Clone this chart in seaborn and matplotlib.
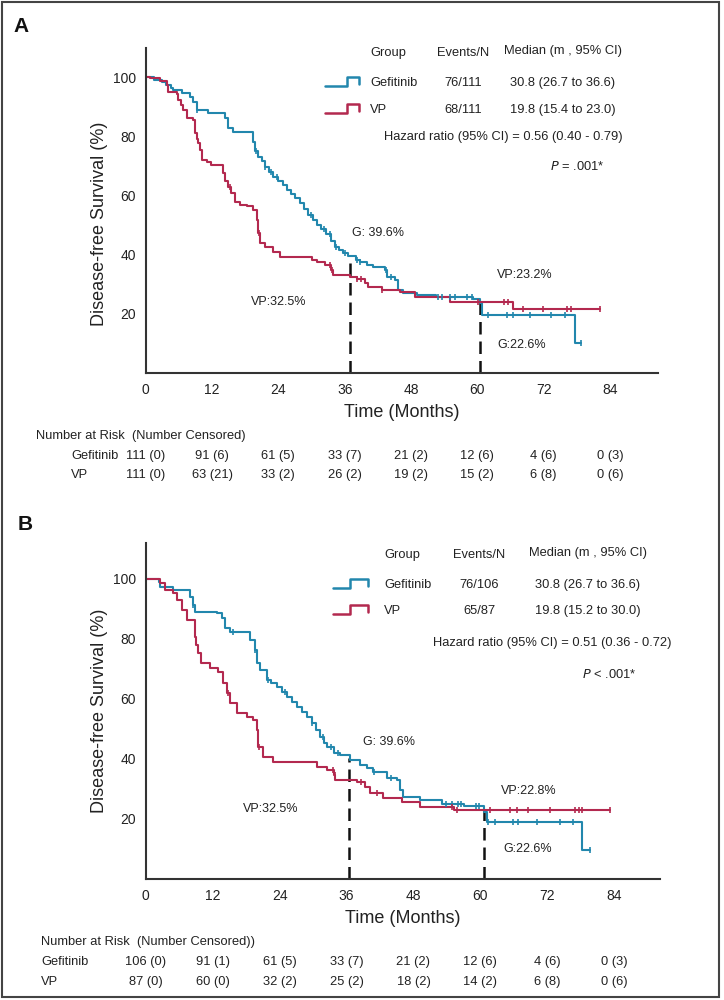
import numpy as np
import pandas as pd
import matplotlib
matplotlib.use("Agg")
import matplotlib.pyplot as plt
from matplotlib import font_manager
from matplotlib.lines import Line2D
from matplotlib.patches import Rectangle
from matplotlib.transforms import blended_transform_factory
import seaborn as sns

# ---------------- data ----------------
groups = ["Gefitinib", "VP"]

# Panel A step data (months, survival % after the step); last point = end of follow-up
a_gef_t = [0, 1.5, 3.0, 3.6, 4.5, 5.0, 6.5, 8.0, 8.6, 9.2, 11.3, 14.3, 14.9, 15.8, 19.5, 19.8, 20.3, 21.0,
           21.5, 22.3, 23.1, 24.0, 24.8, 25.5, 26.3, 27.0, 27.9, 28.6, 29.3, 30.3, 31.0, 31.8, 32.7, 33.5,
           34.2, 35.0, 35.7, 36.6, 38.0, 38.75, 40.0, 41.2, 43.3, 43.6, 45.1, 45.7, 46.5, 49.0, 52.6, 59.2,
           60.5, 60.9, 77.6, 78.8]
a_gef_s = [100, 99.1, 98.2, 97.3, 96.4, 95.5, 94.6, 93.3, 91.7, 88.9, 87.7, 86.0, 82.7, 81.5, 78.1, 75.0, 73.1, 71.5,
           69.7, 68.0, 66.3, 65.0, 63.5, 61.8, 60.5, 59.0, 57.3, 55.5, 53.5, 51.7, 50.0, 48.5, 47.0, 44.5,
           42.7, 41.5, 40.5, 39.6, 38.3, 37.6, 36.5, 35.9, 34.8, 32.5, 31.4, 28.0, 27.0, 26.3, 25.6, 24.9,
           23.5, 19.6, 10.0, 10.0]
a_vp_t = [0, 0.8, 2.5, 3.8, 4.0, 5.6, 5.9, 6.4, 6.8, 7.4, 8.6, 8.9, 9.2, 9.5, 9.8, 10.1, 11.0, 11.9, 14.0,
          14.4, 14.9, 15.5, 16.1, 17.1, 18.3, 19.5, 20.1, 20.4, 20.7, 21.6, 23.1, 24.3, 30.0, 30.9, 32.4,
          33.6, 33.9, 36.9, 38.2, 39.7, 40.3, 42.7, 46.0, 48.7, 55.0, 66.5, 82.2]
a_vp_s = [100, 99.5, 98.6, 97.3, 95.0, 94.4, 92.2, 90.5, 88.9, 86.0, 85.4, 81.0, 79.0, 77.6, 75.3, 72.0, 71.4, 70.3, 67.5,
          65.0, 62.9, 60.7, 57.9, 56.8, 56.3, 55.1, 51.7, 47.2, 43.8, 42.7, 41.0, 39.3, 38.2, 37.6, 36.5,
          34.8, 33.1, 32.5, 31.6, 30.5, 29.2, 28.0, 27.5, 25.8, 24.1, 21.5, 21.5]
a_gef_cens = [9.3, 19.9, 21.6, 22.6, 23.8, 29.9, 32.3, 33.4, 34.5, 36.0, 38.2, 38.8, 43.4, 44.3,
              52.8, 53.6, 55.0, 56.0, 58.2, 59.0, 62.0, 65.3, 66.5, 69.5, 73.4, 75.8, 78.8]
a_vp_cens = [15.3, 20.5, 33.4, 33.7, 38.3, 38.9, 42.8, 60.2, 64.9, 65.5, 68.2, 71.8, 76.3, 76.9, 82.2]

# Panel B step data
b_gef_t = [0, 2.3, 2.6, 4.95, 7.9, 8.5, 8.8, 12.7, 13.6, 14.2, 15.1, 18.7, 19.6, 19.9, 20.5, 21.7, 22.5, 23.5,
           24.4, 25.3, 26.2, 27.1, 28.0, 28.9, 29.8, 30.5, 31.3, 31.9, 32.5, 33.7, 34.9, 36.6, 38.4, 39.6,
           40.8, 43.2, 45.0, 45.6, 46.2, 49.2, 53.1, 57.0, 60.6, 61.2, 78.2, 79.7]
b_gef_s = [100, 99.1, 97.4, 96.3, 94.1, 91.3, 89.1, 88.6, 86.9, 83.6, 82.4, 79.7, 76.3, 71.9, 69.7, 66.3, 65.2, 64.1,
           62.4, 60.8, 59.1, 57.4, 55.7, 54.1, 51.9, 49.7, 47.4, 45.2, 44.1, 41.9, 41.3, 39.7, 38.0, 37.0,
           35.8, 33.6, 33.0, 29.7, 27.4, 26.3, 25.0, 24.3, 22.4, 19.1, 9.7, 9.7]
b_vp_t = [0, 2.6, 3.5, 4.95, 5.6, 6.5, 7.4, 8.8, 9.1, 9.4, 10.0, 11.5, 13.0, 13.9, 14.5, 15.1, 16.3, 18.1,
          19.3, 19.9, 20.2, 21.1, 22.9, 30.7, 32.5, 33.7, 34.0, 37.8, 39.3, 40.2, 42.6, 46.0, 49.2, 55.2, 83.3]
b_vp_s = [100, 98.6, 96.3, 95.2, 93.0, 89.7, 86.3, 80.8, 78.0, 75.2, 71.9, 70.2, 69.1, 65.2, 61.9, 58.6, 55.2, 54.1,
          53.0, 49.7, 44.1, 40.8, 39.1, 37.4, 36.3, 34.7, 33.0, 32.4, 30.8, 28.6, 26.9, 25.8, 24.1, 23.0, 23.0]
b_gef_cens = [8.5, 15.6, 19.6, 22.0, 25.0, 29.9, 31.7, 33.3, 34.4, 41.0, 44.0, 53.8, 55.0, 55.9, 56.5,
              59.2, 59.8, 61.4, 62.6, 65.9, 66.8, 70.1, 74.2, 76.6, 79.7]
b_vp_cens = [14.8, 20.3, 33.5, 33.9, 38.6, 41.5, 55.0, 55.8, 61.8, 65.3, 66.5, 68.6, 72.5, 77.0, 77.6, 78.2, 83.3]

# landmark dashed lines (month, survival at top)
a_land_t = [37.0, 60.5]
a_land_s = [39.6, 24.6]
b_land_t = [36.5, 60.7]
b_land_s = [40.5, 23.0]

# annotations (text, month, survival)
a_notes = [("G: 39.6%", 37.3, 47.3, "left"), ("VP:23.2%", 63.5, 33.1, "left"),
           ("G:22.6%", 63.7, 9.5, "left"), ("VP:32.5%", 29.0, 24.0, "right")]
b_notes = [("G: 39.6%", 39.0, 45.7, "left"), ("VP:22.8%", 63.6, 29.3, "left"),
           ("G:22.6%", 64.1, 10.0, "left"), ("VP:32.5%", 27.3, 23.3, "right")]

# legend tables
a_events = ["76/111", "68/111"]
a_median = ["30.8 (26.7 to 36.6)", "19.8 (15.4 to 23.0)"]
a_hr = "Hazard ratio (95% CI) = 0.56 (0.40 - 0.79)"
a_p = ("=", ".001*")
b_events = ["76/106", "65/87"]
b_median = ["30.8 (26.7 to 36.6)", "19.8 (15.2 to 30.0)"]
b_hr = "Hazard ratio (95% CI) = 0.51 (0.36 - 0.72)"
b_p = ("<", ".001*")

# risk tables
risk_months = [0, 12, 24, 36, 48, 60, 72, 84]
a_risk_gef = ["111 (0)", "91 (6)", "61 (5)", "33 (7)", "21 (2)", "12 (6)", "4 (6)", "0 (3)"]
a_risk_vp = ["111 (0)", "63 (21)", "33 (2)", "26 (2)", "19 (2)", "15 (2)", "6 (8)", "0 (6)"]
b_risk_gef = ["106 (0)", "91 (1)", "61 (5)", "33 (7)", "21 (2)", "12 (6)", "4 (6)", "0 (3)"]
b_risk_vp = ["87 (0)", "60 (0)", "32 (2)", "25 (2)", "18 (2)", "14 (2)", "6 (8)", "0 (6)"]

# ---------------- style ----------------
sns.set_style("white")
names = {f.name for f in font_manager.fontManager.ttflist}
REG = "Liberation Sans" if "Liberation Sans" in names else "DejaVu Sans"
plt.rcParams["font.family"] = [REG, "DejaVu Sans"]

BLUE = "#2287ad"
RED = "#b3294f"
palette = {"Gefitinib": BLUE, "VP": RED}
INK = "#222222"

W, H = 724, 1000
fig = plt.figure(figsize=(W / 100, H / 100), dpi=100)


def fx(px):
    return px / W


def fy(py):
    return 1 - py / H


def make_df(gt, gs, vt, vs):
    return pd.concat([
        pd.DataFrame({"group": "Gefitinib", "month": gt, "surv": gs}),
        pd.DataFrame({"group": "VP", "month": vt, "surv": vs}),
    ], ignore_index=True)


def surv_at(ts, ss, t):
    idx = np.searchsorted(np.asarray(ts), t, side="right") - 1
    return np.asarray(ss)[idx]


def panel(ax_box, xmax, ymax, df, cens, land_t, land_s, notes, ylab_y):
    left, top, right, bottom = ax_box
    ax = fig.add_axes([fx(left), fy(bottom), fx(right) - fx(left), (bottom - top) / H])
    sns.lineplot(data=df, x="month", y="surv", hue="group", palette=palette,
                 drawstyle="steps-post", estimator=None, sort=False, ax=ax,
                 legend=False, linewidth=1.5)
    for g in groups:
        sub = df[df.group == g]
        ct = np.asarray(cens[g])
        cs = surv_at(sub.month.values, sub.surv.values, ct)
        ax.plot(ct, cs, linestyle="none", marker="|", markersize=4.5,
                markeredgewidth=1.2, color=palette[g])
    ax.vlines(land_t, 0, land_s, colors="#111111", linestyles=(0, (5, 2.8)), linewidth=1.8, zorder=1)
    for txt, m, s, ha in notes:
        ax.text(m, s, txt, ha=ha, va="center", fontsize=9, color=INK)
    ax.set_xlim(0, xmax)
    ax.set_ylim(0, ymax)
    ax.set_xticks(risk_months)
    ax.set_yticks([20, 40, 60, 80, 100])
    ax.tick_params(length=0, labelsize=10, pad=7, colors=INK)
    ax.set_xlabel("Time (Months)", fontsize=13, color=INK, labelpad=5)
    ax.set_ylabel("Disease-free Survival (%)", fontsize=13, color=INK)
    ax.yaxis.set_label_coords((99 - left) / (right - left), (bottom - ylab_y) / (bottom - top))
    ax.yaxis.label.set_va("center")
    for sp in ["top", "right"]:
        ax.spines[sp].set_visible(False)
    for sp in ["left", "bottom"]:
        ax.spines[sp].set_color("#333333")
        ax.spines[sp].set_linewidth(1.5)
    return ax


def legend_block(x0, sym_x, col_ev, col_med, y_head, y_rows, hr_x, hr_y, p_x, p_y,
                 events, medians, hr, p):
    fs = 9.3
    fig.text(fx(x0), fy(y_head), "Group", fontsize=fs, va="center", ha="left", color=INK)
    fig.text(fx(col_ev), fy(y_head), "Events/N", fontsize=fs, va="center", ha="center", color=INK)
    fig.text(fx(col_med), fy(y_head - 2), "Median (m , 95% CI)", fontsize=fs, va="center", ha="center", color=INK)
    for g, yr, ev, med in zip(groups, y_rows, events, medians):
        x1, x2, x3 = sym_x
        xs = [x1, x2, x2, x3, x3]
        ys = [yr + 3, yr + 3, yr - 6, yr - 6, yr + 1]
        fig.add_artist(Line2D([fx(v) for v in xs], [fy(v) for v in ys], color=palette[g],
                              linewidth=1.8, transform=fig.transFigure))
        fig.text(fx(x0), fy(yr), g, fontsize=fs, va="center", ha="left", color=INK)
        fig.text(fx(col_ev), fy(yr), ev, fontsize=fs, va="center", ha="center", color=INK)
        fig.text(fx(col_med), fy(yr), med, fontsize=fs, va="center", ha="center", color=INK)
    fig.text(fx(hr_x), fy(hr_y), hr, fontsize=fs, va="center", ha="left", color=INK)
    fig.text(fx(p_x), fy(p_y), r"$\it{P}$ " + p[0] + " " + p[1], fontsize=fs, va="center", ha="left", color=INK)


def risk_table(ax, title_xy, label_x, ys, gef, vp, title):
    fs = 9.3
    fig.text(fx(title_xy[0]), fy(title_xy[1]), title, fontsize=fs,
             va="center", ha="left", color=INK)
    tr = blended_transform_factory(ax.transData, fig.transFigure)
    for g, yr, vals in zip(groups, ys, [gef, vp]):
        fig.text(fx(label_x), fy(yr), g, fontsize=fs, va="center", ha="left", color=INK)
        for m, v in zip(risk_months, vals):
            ax.text(m, fy(yr), v, transform=tr, fontsize=fs,
                    va="center", ha="center", color=INK, clip_on=False)


# ---------------- panel A ----------------
dfA = make_df(a_gef_t, a_gef_s, a_vp_t, a_vp_s)
axA = panel((145.7, 48, 657.6, 373), 92.6, 109.8, dfA,
            {"Gefitinib": a_gef_cens, "VP": a_vp_cens}, a_land_t, a_land_s, a_notes, 224)
legend_block(370, (325, 346.7, 359.3), 463, 563, 53, [83, 110], 384, 137, 550, 166,
             a_events, a_median, a_hr, a_p)
risk_table(axA, (36, 436), 71, [456, 475], a_risk_gef, a_risk_vp,
           "Number at Risk  (Number Censored)")
fig.text(fx(21), fy(26), "A", fontsize=15, fontweight="bold", ha="center", va="center", color="#111111")

# ---------------- panel B ----------------
dfB = make_df(b_gef_t, b_gef_s, b_vp_t, b_vp_s)
axB = panel((145.7, 543, 660, 879), 92.2, 112, dfB,
            {"Gefitinib": b_gef_cens, "VP": b_vp_cens}, b_land_t, b_land_s, b_notes, 711)
legend_block(384, (333.3, 350, 368.3), 479, 588, 555, [585, 611], 433, 643, 582, 675,
             b_events, b_median, b_hr, b_p)
risk_table(axB, (41, 942), 41, [962, 982], b_risk_gef, b_risk_vp,
           "Number at Risk  (Number Censored))")
fig.text(fx(25), fy(524), "B", fontsize=15, fontweight="bold", ha="center", va="center", color="#111111")

# outer frame
fig.add_artist(Rectangle((fx(1.5), fy(997)), fx(719) - fx(1.5), fy(1.5) - fy(997), transform=fig.transFigure,
                         fill=False, edgecolor="#444444", linewidth=1.5))

fig.savefig("out.png", dpi=100, facecolor="white")
